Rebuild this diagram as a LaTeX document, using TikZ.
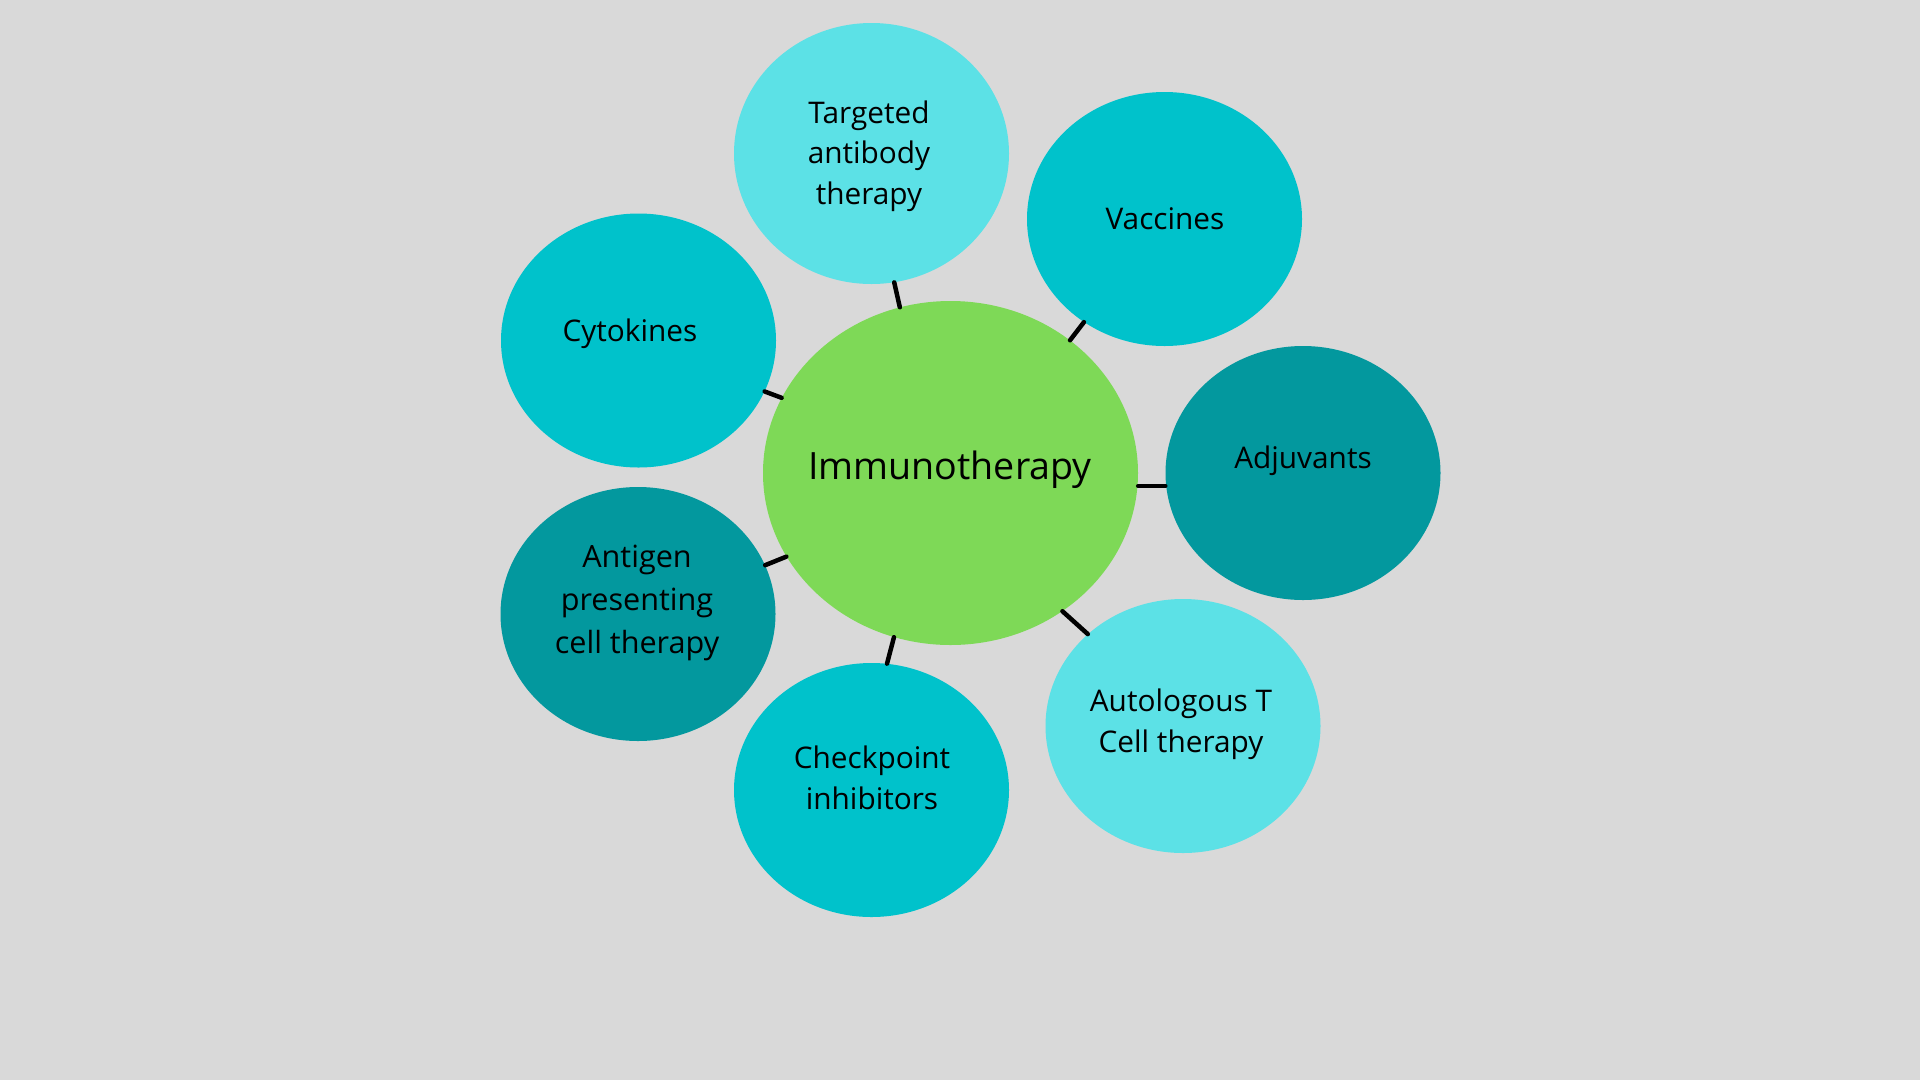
\documentclass[tikz,border=0pt]{standalone}
\usepackage{fontspec}
\setmainfont{Open Sans}
\usetikzlibrary{shapes.geometric}
\definecolor{bgc}{HTML}{D9D9D9}
\definecolor{greenc}{HTML}{7ED957}
\definecolor{lightc}{HTML}{5CE1E6}
\definecolor{midc}{HTML}{00C2CB}
\definecolor{darkc}{HTML}{03989E}
\begin{document}
\begin{tikzpicture}[x=1pt,y=-1pt,
  blob/.style={ellipse, inner sep=0pt, draw=none, minimum width=275pt, minimum height=254pt},
  lbl/.style={align=center, inner sep=0pt, text=black, font=\fontsize{29.8}{40.5}\selectfont},
  biglbl/.style={align=center, inner sep=0pt, text=black, font=\fontsize{37.6}{47}\selectfont},
  widelbl/.style={align=center, inner sep=0pt, text=black, font=\fontsize{30.6}{43}\selectfont},
  link/.style={line width=4.5pt, line cap=round, draw=black}]
\fill[bgc] (0,0) rectangle (1920,1080);
\useasboundingbox (0,0) rectangle (1920,1080);

% circles
\node[blob, fill=greenc, minimum width=375pt, minimum height=344pt] (core) at (950.5,473) {};
\node[blob, fill=lightc, minimum height=261pt] (targ) at (871.5,153.5) {};
\node[blob, fill=midc] (vacc) at (1164.5,219) {};
\node[blob, fill=midc] (cyto) at (638.5,340.5) {};
\node[blob, fill=darkc] (adju) at (1303,473) {};
\node[blob, fill=darkc] (anti) at (638,614) {};
\node[blob, fill=lightc] (auto) at (1183,726) {};
\node[blob, fill=midc] (chk) at (871.5,790) {};

% labels
\node[biglbl] (coreT) at (950,470) {Immunotherapy};
\node[lbl] (targT) at (869,156) {Targeted\\antibody\\therapy};
\node[lbl] (vaccT) at (1165,218.5) {Vaccines};
\node[lbl] (cytoT) at (630,334) {Cytokines};
\node[lbl] (adjuT) at (1303,461) {Adjuvants};
\node[widelbl] (antiT) at (637,603) {Antigen\\presenting\\cell therapy};
\node[lbl] (autoT) at (1181,724) {Autologous T\\Cell therapy};
\node[lbl] (chkT) at (872,778) {Checkpoint\\inhibitors};

% connectors
\draw[link] (targ.-80.5) -- (core.107.5);
\draw[link] (vacc.-128.4) -- (core.48.5);
\draw[link] (cyto.-22.9) -- (core.156.5);
\draw[link] ([yshift=-13pt]adju.west) -- ([yshift=-13pt]core.east);
\draw[link] (auto.136.8) -- (core.-51.6);
\draw[link] (chk.83.4) -- (core.-109.1);
\draw[link] (anti.21.3) -- (core.-153.9);
\end{tikzpicture}
\end{document}
